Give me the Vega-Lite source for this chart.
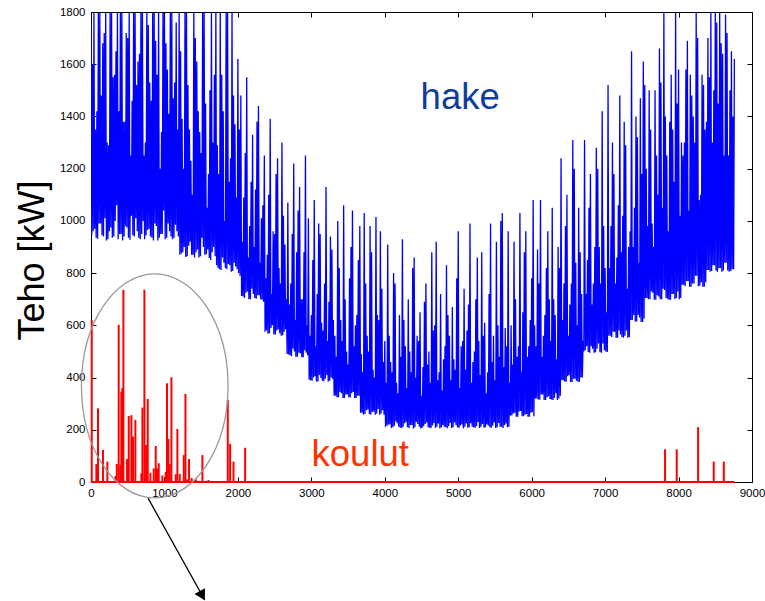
{
"$schema": "https://vega.github.io/schema/vega-lite/v6.json",
"width": 661, "height": 470,
"autosize": {"type": "none"},
"padding": {"left": 91, "top": 12, "right": 13, "bottom": 119},
"background": "white",
"config": {
  "view": {"stroke": null},
  "font": "Liberation Sans",
  "axis": {"grid": false, "domainColor": "#000", "tickColor": "#000", "labelColor": "#000", "labelFont": "Liberation Sans", "labelFontSize": 11.5, "tickSize": -5, "labelOverlap": false, "labelFlush": false, "domainWidth": 1, "tickWidth": 1, "format": "d"}
},
"datasets": {
"hake": [
{"h":0,"v":1750},{"h":10,"v":945},{"h":20,"v":1600},{"h":30,"v":960},
{"h":40,"v":1800},{"h":50,"v":970},{"h":60,"v":1350},{"h":70,"v":935},
{"h":80,"v":1420},{"h":90,"v":932},{"h":100,"v":1800},{"h":110,"v":990},
{"h":120,"v":1800},{"h":130,"v":990},{"h":140,"v":1480},{"h":150,"v":945},
{"h":160,"v":1680},{"h":170,"v":940},{"h":180,"v":1720},{"h":190,"v":1010},
{"h":200,"v":1800},{"h":210,"v":925},{"h":220,"v":1300},{"h":230,"v":930},
{"h":240,"v":1290},{"h":250,"v":960},{"h":260,"v":1800},{"h":270,"v":975},
{"h":280,"v":1800},{"h":290,"v":935},{"h":300,"v":1550},{"h":310,"v":940},
{"h":320,"v":1560},{"h":330,"v":1000},{"h":340,"v":1650},{"h":350,"v":1060},
{"h":360,"v":1800},{"h":370,"v":930},{"h":380,"v":1420},{"h":390,"v":950},
{"h":400,"v":1800},{"h":410,"v":950},{"h":420,"v":1800},{"h":430,"v":925},
{"h":440,"v":1380},{"h":450,"v":940},{"h":460,"v":1380},{"h":470,"v":980},
{"h":480,"v":1720},{"h":490,"v":975},{"h":500,"v":1700},{"h":510,"v":935},
{"h":520,"v":1800},{"h":530,"v":928},{"h":540,"v":1250},{"h":550,"v":1020},
{"h":560,"v":1460},{"h":570,"v":945},{"h":580,"v":1800},{"h":590,"v":940},
{"h":600,"v":1800},{"h":610,"v":1010},{"h":620,"v":1520},{"h":630,"v":960},
{"h":640,"v":1610},{"h":650,"v":935},{"h":660,"v":1640},{"h":670,"v":930},
{"h":680,"v":1800},{"h":690,"v":950},{"h":700,"v":1800},{"h":710,"v":1000},
{"h":720,"v":1250},{"h":730,"v":930},{"h":740,"v":1300},{"h":750,"v":945},
{"h":760,"v":1800},{"h":770,"v":965},{"h":780,"v":1750},{"h":790,"v":970},
{"h":800,"v":1530},{"h":810,"v":940},{"h":820,"v":1460},{"h":830,"v":935},
{"h":840,"v":1800},{"h":850,"v":925},{"h":860,"v":1800},{"h":870,"v":990},
{"h":880,"v":1690},{"h":890,"v":980},{"h":900,"v":1560},{"h":910,"v":925},
{"h":920,"v":1800},{"h":930,"v":935},{"h":940,"v":1200},{"h":950,"v":950},
{"h":960,"v":1340},{"h":970,"v":950},{"h":980,"v":1800},{"h":990,"v":1040},
{"h":1000,"v":1800},{"h":1010,"v":930},{"h":1020,"v":1680},{"h":1030,"v":935},
{"h":1040,"v":1580},{"h":1050,"v":990},{"h":1060,"v":1410},{"h":1070,"v":960},
{"h":1080,"v":1800},{"h":1090,"v":940},{"h":1100,"v":1800},{"h":1110,"v":930},
{"h":1120,"v":1470},{"h":1130,"v":935},{"h":1140,"v":1530},{"h":1150,"v":985},
{"h":1160,"v":1760},{"h":1170,"v":960},{"h":1180,"v":1350},{"h":1190,"v":940},
{"h":1200,"v":1800},{"h":1210,"v":870},{"h":1220,"v":1650},{"h":1230,"v":875},
{"h":1240,"v":1390},{"h":1250,"v":880},{"h":1260,"v":1200},{"h":1270,"v":900},
{"h":1280,"v":1800},{"h":1290,"v":862},{"h":1300,"v":1800},{"h":1310,"v":865},
{"h":1320,"v":1520},{"h":1330,"v":905},{"h":1340,"v":1350},{"h":1350,"v":920},
{"h":1360,"v":1230},{"h":1370,"v":870},{"h":1380,"v":1100},{"h":1390,"v":870},
{"h":1400,"v":1800},{"h":1410,"v":860},{"h":1420,"v":1700},{"h":1430,"v":880},
{"h":1440,"v":1610},{"h":1450,"v":890},{"h":1460,"v":1420},{"h":1470,"v":860},
{"h":1480,"v":1340},{"h":1490,"v":865},{"h":1500,"v":1260},{"h":1510,"v":935},
{"h":1520,"v":1800},{"h":1530,"v":900},{"h":1540,"v":1800},{"h":1550,"v":870},
{"h":1560,"v":1450},{"h":1570,"v":872},{"h":1580,"v":1050},{"h":1590,"v":890},
{"h":1600,"v":1180},{"h":1610,"v":858},{"h":1620,"v":1500},{"h":1630,"v":850},
{"h":1640,"v":1800},{"h":1650,"v":880},{"h":1660,"v":1300},{"h":1670,"v":900},
{"h":1680,"v":1560},{"h":1690,"v":865},{"h":1700,"v":1800},{"h":1710,"v":830},
{"h":1720,"v":1290},{"h":1730,"v":820},{"h":1740,"v":1180},{"h":1750,"v":815},
{"h":1760,"v":1800},{"h":1770,"v":812},{"h":1780,"v":1560},{"h":1790,"v":860},
{"h":1800,"v":1420},{"h":1810,"v":840},{"h":1820,"v":1000},{"h":1830,"v":820},
{"h":1840,"v":1800},{"h":1850,"v":815},{"h":1860,"v":1800},{"h":1870,"v":835},
{"h":1880,"v":1150},{"h":1890,"v":830},{"h":1900,"v":1240},{"h":1910,"v":805},
{"h":1920,"v":1800},{"h":1930,"v":808},{"h":1940,"v":1480},{"h":1950,"v":840},
{"h":1960,"v":1370},{"h":1970,"v":825},{"h":1980,"v":1090},{"h":1990,"v":815},
{"h":2000,"v":1620},{"h":2010,"v":800},{"h":2020,"v":1350},{"h":2030,"v":790},
{"h":2040,"v":1480},{"h":2050,"v":712},{"h":2060,"v":920},{"h":2070,"v":710},
{"h":2080,"v":1090},{"h":2090,"v":705},{"h":2100,"v":1260},{"h":2110,"v":725},
{"h":2120,"v":1550},{"h":2130,"v":730},{"h":2140,"v":860},{"h":2150,"v":700},
{"h":2160,"v":980},{"h":2170,"v":700},{"h":2180,"v":1150},{"h":2190,"v":740},
{"h":2200,"v":1330},{"h":2210,"v":720},{"h":2220,"v":900},{"h":2230,"v":705},
{"h":2240,"v":1120},{"h":2250,"v":702},{"h":2260,"v":1380},{"h":2270,"v":715},
{"h":2280,"v":1440},{"h":2290,"v":715},{"h":2300,"v":840},{"h":2310,"v":700},
{"h":2320,"v":1010},{"h":2330,"v":698},{"h":2340,"v":1060},{"h":2350,"v":690},
{"h":2360,"v":1250},{"h":2370,"v":575},{"h":2380,"v":780},{"h":2390,"v":580},
{"h":2400,"v":870},{"h":2410,"v":568},{"h":2420,"v":1100},{"h":2430,"v":570},
{"h":2440,"v":1390},{"h":2450,"v":590},{"h":2460,"v":720},{"h":2470,"v":600},
{"h":2480,"v":960},{"h":2490,"v":565},{"h":2500,"v":950},{"h":2510,"v":565},
{"h":2520,"v":1180},{"h":2530,"v":580},{"h":2540,"v":1240},{"h":2550,"v":585},
{"h":2560,"v":820},{"h":2570,"v":570},{"h":2580,"v":760},{"h":2590,"v":560},
{"h":2600,"v":1300},{"h":2610,"v":562},{"h":2620,"v":1020},{"h":2630,"v":575},
{"h":2640,"v":910},{"h":2650,"v":585},{"h":2660,"v":700},{"h":2670,"v":490},
{"h":2680,"v":1070},{"h":2690,"v":488},{"h":2700,"v":680},{"h":2710,"v":485},
{"h":2720,"v":760},{"h":2730,"v":482},{"h":2740,"v":950},{"h":2750,"v":510},
{"h":2760,"v":1220},{"h":2770,"v":500},{"h":2780,"v":620},{"h":2790,"v":480},
{"h":2800,"v":880},{"h":2810,"v":480},{"h":2820,"v":1040},{"h":2830,"v":495},
{"h":2840,"v":1130},{"h":2850,"v":492},{"h":2860,"v":700},{"h":2870,"v":478},
{"h":2880,"v":700},{"h":2890,"v":478},{"h":2900,"v":880},{"h":2910,"v":505},
{"h":2920,"v":1250},{"h":2930,"v":495},{"h":2940,"v":600},{"h":2950,"v":485},
{"h":2960,"v":1010},{"h":2970,"v":392},{"h":2980,"v":560},{"h":2990,"v":390},
{"h":3000,"v":640},{"h":3010,"v":388},{"h":3020,"v":850},{"h":3030,"v":400},
{"h":3040,"v":1080},{"h":3050,"v":405},{"h":3060,"v":520},{"h":3070,"v":385},
{"h":3080,"v":720},{"h":3090,"v":385},{"h":3100,"v":990},{"h":3110,"v":410},
{"h":3120,"v":950},{"h":3130,"v":398},{"h":3140,"v":610},{"h":3150,"v":388},
{"h":3160,"v":580},{"h":3170,"v":386},{"h":3180,"v":760},{"h":3190,"v":395},
{"h":3200,"v":1130},{"h":3210,"v":410},{"h":3220,"v":540},{"h":3230,"v":385},
{"h":3240,"v":690},{"h":3250,"v":388},{"h":3260,"v":940},{"h":3270,"v":400},
{"h":3280,"v":890},{"h":3290,"v":395},{"h":3300,"v":620},{"h":3310,"v":330},
{"h":3320,"v":560},{"h":3330,"v":330},{"h":3340,"v":480},{"h":3350,"v":325},
{"h":3360,"v":1000},{"h":3370,"v":325},{"h":3380,"v":820},{"h":3390,"v":345},
{"h":3400,"v":620},{"h":3410,"v":340},{"h":3420,"v":540},{"h":3430,"v":322},
{"h":3440,"v":1060},{"h":3450,"v":322},{"h":3460,"v":700},{"h":3470,"v":335},
{"h":3480,"v":500},{"h":3490,"v":335},{"h":3500,"v":450},{"h":3510,"v":325},
{"h":3520,"v":780},{"h":3530,"v":324},{"h":3540,"v":900},{"h":3550,"v":340},
{"h":3560,"v":1040},{"h":3570,"v":345},{"h":3580,"v":520},{"h":3590,"v":322},
{"h":3600,"v":600},{"h":3610,"v":322},{"h":3620,"v":640},{"h":3630,"v":330},
{"h":3640,"v":850},{"h":3650,"v":330},{"h":3660,"v":980},{"h":3670,"v":265},
{"h":3680,"v":490},{"h":3690,"v":265},{"h":3700,"v":420},{"h":3710,"v":258},
{"h":3720,"v":1030},{"h":3730,"v":260},{"h":3740,"v":760},{"h":3750,"v":275},
{"h":3760,"v":560},{"h":3770,"v":278},{"h":3780,"v":500},{"h":3790,"v":260},
{"h":3800,"v":980},{"h":3810,"v":258},{"h":3820,"v":880},{"h":3830,"v":268},
{"h":3840,"v":430},{"h":3850,"v":270},{"h":3860,"v":400},{"h":3870,"v":258},
{"h":3880,"v":1015},{"h":3890,"v":262},{"h":3900,"v":640},{"h":3910,"v":280},
{"h":3920,"v":620},{"h":3930,"v":258},{"h":3940,"v":960},{"h":3950,"v":262},
{"h":3960,"v":740},{"h":3970,"v":275},{"h":3980,"v":460},{"h":3990,"v":258},
{"h":4000,"v":540},{"h":4010,"v":212},{"h":4020,"v":380},{"h":4030,"v":215},
{"h":4040,"v":910},{"h":4050,"v":220},{"h":4060,"v":560},{"h":4070,"v":220},
{"h":4080,"v":460},{"h":4090,"v":207},{"h":4100,"v":420},{"h":4110,"v":210},
{"h":4120,"v":800},{"h":4130,"v":215},{"h":4140,"v":760},{"h":4150,"v":232},
{"h":4160,"v":380},{"h":4170,"v":225},{"h":4180,"v":340},{"h":4190,"v":212},
{"h":4200,"v":640},{"h":4210,"v":208},{"h":4220,"v":480},{"h":4230,"v":207},
{"h":4240,"v":930},{"h":4250,"v":212},{"h":4260,"v":620},{"h":4270,"v":225},
{"h":4280,"v":520},{"h":4290,"v":230},{"h":4300,"v":360},{"h":4310,"v":210},
{"h":4320,"v":700},{"h":4330,"v":207},{"h":4340,"v":500},{"h":4350,"v":218},
{"h":4360,"v":420},{"h":4370,"v":218},{"h":4380,"v":820},{"h":4390,"v":205},
{"h":4400,"v":860},{"h":4410,"v":210},{"h":4420,"v":400},{"h":4430,"v":230},
{"h":4440,"v":560},{"h":4450,"v":222},{"h":4460,"v":540},{"h":4470,"v":212},
{"h":4480,"v":650},{"h":4490,"v":205},{"h":4500,"v":330},{"h":4510,"v":208},
{"h":4520,"v":440},{"h":4530,"v":214},{"h":4540,"v":690},{"h":4550,"v":222},
{"h":4560,"v":760},{"h":4570,"v":228},{"h":4580,"v":450},{"h":4590,"v":210},
{"h":4600,"v":500},{"h":4610,"v":208},{"h":4620,"v":380},{"h":4630,"v":207},
{"h":4640,"v":880},{"h":4650,"v":216},{"h":4660,"v":580},{"h":4670,"v":226},
{"h":4680,"v":600},{"h":4690,"v":207},{"h":4700,"v":920},{"h":4710,"v":212},
{"h":4720,"v":390},{"h":4730,"v":224},{"h":4740,"v":420},{"h":4750,"v":205},
{"h":4760,"v":720},{"h":4770,"v":210},{"h":4780,"v":350},{"h":4790,"v":218},
{"h":4800,"v":470},{"h":4810,"v":212},{"h":4820,"v":520},{"h":4830,"v":210},
{"h":4840,"v":830},{"h":4850,"v":206},{"h":4860,"v":640},{"h":4870,"v":214},
{"h":4880,"v":560},{"h":4890,"v":226},{"h":4900,"v":390},{"h":4910,"v":207},
{"h":4920,"v":670},{"h":4930,"v":210},{"h":4940,"v":470},{"h":4950,"v":228},
{"h":4960,"v":430},{"h":4970,"v":218},{"h":4980,"v":780},{"h":4990,"v":210},
{"h":5000,"v":960},{"h":5010,"v":207},{"h":5020,"v":360},{"h":5030,"v":215},
{"h":5040,"v":520},{"h":5050,"v":220},{"h":5060,"v":540},{"h":5070,"v":206},
{"h":5080,"v":740},{"h":5090,"v":212},{"h":5100,"v":430},{"h":5110,"v":224},
{"h":5120,"v":580},{"h":5130,"v":208},{"h":5140,"v":680},{"h":5150,"v":210},
{"h":5160,"v":990},{"h":5170,"v":225},{"h":5180,"v":380},{"h":5190,"v":212},
{"h":5200,"v":460},{"h":5210,"v":210},{"h":5220,"v":500},{"h":5230,"v":207},
{"h":5240,"v":700},{"h":5250,"v":214},{"h":5260,"v":860},{"h":5270,"v":230},
{"h":5280,"v":540},{"h":5290,"v":207},{"h":5300,"v":410},{"h":5310,"v":212},
{"h":5320,"v":880},{"h":5330,"v":222},{"h":5340,"v":560},{"h":5350,"v":208},
{"h":5360,"v":610},{"h":5370,"v":210},{"h":5380,"v":340},{"h":5390,"v":220},
{"h":5400,"v":420},{"h":5410,"v":216},{"h":5420,"v":720},{"h":5430,"v":210},
{"h":5440,"v":990},{"h":5450,"v":208},{"h":5460,"v":460},{"h":5470,"v":215},
{"h":5480,"v":560},{"h":5490,"v":228},{"h":5500,"v":390},{"h":5510,"v":207},
{"h":5520,"v":920},{"h":5530,"v":210},{"h":5540,"v":600},{"h":5550,"v":226},
{"h":5560,"v":480},{"h":5570,"v":212},{"h":5580,"v":1000},{"h":5590,"v":212},
{"h":5600,"v":1030},{"h":5610,"v":207},{"h":5620,"v":440},{"h":5630,"v":218},
{"h":5640,"v":590},{"h":5650,"v":224},{"h":5660,"v":520},{"h":5670,"v":210},
{"h":5680,"v":960},{"h":5690,"v":212},{"h":5700,"v":380},{"h":5710,"v":255},
{"h":5720,"v":600},{"h":5730,"v":255},{"h":5740,"v":450},{"h":5750,"v":262},
{"h":5760,"v":920},{"h":5770,"v":265},{"h":5780,"v":700},{"h":5790,"v":250},
{"h":5800,"v":480},{"h":5810,"v":250},{"h":5820,"v":520},{"h":5830,"v":270},
{"h":5840,"v":1030},{"h":5850,"v":272},{"h":5860,"v":420},{"h":5870,"v":252},
{"h":5880,"v":650},{"h":5890,"v":252},{"h":5900,"v":880},{"h":5910,"v":258},
{"h":5920,"v":960},{"h":5930,"v":260},{"h":5940,"v":480},{"h":5950,"v":250},
{"h":5960,"v":520},{"h":5970,"v":250},{"h":5980,"v":620},{"h":5990,"v":265},
{"h":6000,"v":780},{"h":6010,"v":268},{"h":6020,"v":1080},{"h":6030,"v":252},
{"h":6040,"v":600},{"h":6050,"v":320},{"h":6060,"v":520},{"h":6070,"v":320},
{"h":6080,"v":890},{"h":6090,"v":316},{"h":6100,"v":760},{"h":6110,"v":315},
{"h":6120,"v":1080},{"h":6130,"v":335},{"h":6140,"v":480},{"h":6150,"v":335},
{"h":6160,"v":560},{"h":6170,"v":314},{"h":6180,"v":640},{"h":6190,"v":314},
{"h":6200,"v":820},{"h":6210,"v":325},{"h":6220,"v":960},{"h":6230,"v":328},
{"h":6240,"v":700},{"h":6250,"v":318},{"h":6260,"v":540},{"h":6270,"v":316},
{"h":6280,"v":1050},{"h":6290,"v":314},{"h":6300,"v":700},{"h":6310,"v":322},
{"h":6320,"v":640},{"h":6330,"v":340},{"h":6340,"v":470},{"h":6350,"v":314},
{"h":6360,"v":900},{"h":6370,"v":320},{"h":6380,"v":820},{"h":6390,"v":330},
{"h":6400,"v":1240},{"h":6410,"v":390},{"h":6420,"v":620},{"h":6430,"v":390},
{"h":6440,"v":760},{"h":6450,"v":385},{"h":6460,"v":980},{"h":6470,"v":384},
{"h":6480,"v":1100},{"h":6490,"v":405},{"h":6500,"v":560},{"h":6510,"v":410},
{"h":6520,"v":680},{"h":6530,"v":383},{"h":6540,"v":760},{"h":6550,"v":383},
{"h":6560,"v":1310},{"h":6570,"v":395},{"h":6580,"v":1200},{"h":6590,"v":395},
{"h":6600,"v":840},{"h":6610,"v":388},{"h":6620,"v":600},{"h":6630,"v":385},
{"h":6640,"v":1050},{"h":6650,"v":383},{"h":6660,"v":880},{"h":6670,"v":400},
{"h":6680,"v":720},{"h":6690,"v":400},{"h":6700,"v":540},{"h":6710,"v":500},
{"h":6720,"v":1310},{"h":6730,"v":505},{"h":6740,"v":720},{"h":6750,"v":520},
{"h":6760,"v":850},{"h":6770,"v":498},{"h":6780,"v":1050},{"h":6790,"v":495},
{"h":6800,"v":1180},{"h":6810,"v":520},{"h":6820,"v":680},{"h":6830,"v":510},
{"h":6840,"v":760},{"h":6850,"v":495},{"h":6860,"v":900},{"h":6870,"v":497},
{"h":6880,"v":1280},{"h":6890,"v":510},{"h":6900,"v":1200},{"h":6910,"v":530},
{"h":6920,"v":900},{"h":6930,"v":497},{"h":6940,"v":760},{"h":6950,"v":495},
{"h":6960,"v":1420},{"h":6970,"v":530},{"h":6980,"v":980},{"h":6990,"v":505},
{"h":7000,"v":820},{"h":7010,"v":500},{"h":7020,"v":650},{"h":7030,"v":498},
{"h":7040,"v":1520},{"h":7050,"v":560},{"h":7060,"v":820},{"h":7070,"v":560},
{"h":7080,"v":980},{"h":7090,"v":555},{"h":7100,"v":1300},{"h":7110,"v":575},
{"h":7120,"v":1180},{"h":7130,"v":575},{"h":7140,"v":760},{"h":7150,"v":552},
{"h":7160,"v":860},{"h":7170,"v":552},{"h":7180,"v":1060},{"h":7190,"v":580},
{"h":7200,"v":1480},{"h":7210,"v":565},{"h":7220,"v":880},{"h":7230,"v":555},
{"h":7240,"v":1020},{"h":7250,"v":552},{"h":7260,"v":1380},{"h":7270,"v":560},
{"h":7280,"v":1290},{"h":7290,"v":580},{"h":7300,"v":740},{"h":7310,"v":552},
{"h":7320,"v":900},{"h":7330,"v":555},{"h":7340,"v":960},{"h":7350,"v":620},
{"h":7360,"v":1650},{"h":7370,"v":620},{"h":7380,"v":900},{"h":7390,"v":640},
{"h":7400,"v":1050},{"h":7410,"v":615},{"h":7420,"v":1400},{"h":7430,"v":615},
{"h":7440,"v":1320},{"h":7450,"v":640},{"h":7460,"v":840},{"h":7470,"v":630},
{"h":7480,"v":1470},{"h":7490,"v":613},{"h":7500,"v":1180},{"h":7510,"v":613},
{"h":7520,"v":1610},{"h":7530,"v":625},{"h":7540,"v":1520},{"h":7550,"v":705},
{"h":7560,"v":1200},{"h":7570,"v":705},{"h":7580,"v":980},{"h":7590,"v":700},
{"h":7600,"v":1500},{"h":7610,"v":700},{"h":7620,"v":1350},{"h":7630,"v":730},
{"h":7640,"v":990},{"h":7650,"v":725},{"h":7660,"v":900},{"h":7670,"v":698},
{"h":7680,"v":1500},{"h":7690,"v":698},{"h":7700,"v":1250},{"h":7710,"v":715},
{"h":7720,"v":1100},{"h":7730,"v":710},{"h":7740,"v":1660},{"h":7750,"v":700},
{"h":7760,"v":1530},{"h":7770,"v":700},{"h":7780,"v":1050},{"h":7790,"v":740},
{"h":7800,"v":1800},{"h":7810,"v":735},{"h":7820,"v":1400},{"h":7830,"v":705},
{"h":7840,"v":1250},{"h":7850,"v":702},{"h":7860,"v":960},{"h":7870,"v":698},
{"h":7880,"v":1380},{"h":7890,"v":698},{"h":7900,"v":1560},{"h":7910,"v":720},
{"h":7920,"v":1350},{"h":7930,"v":720},{"h":7940,"v":1150},{"h":7950,"v":700},
{"h":7960,"v":1800},{"h":7970,"v":705},{"h":7980,"v":1450},{"h":7990,"v":730},
{"h":8000,"v":1580},{"h":8010,"v":700},{"h":8020,"v":1020},{"h":8030,"v":705},
{"h":8040,"v":1300},{"h":8050,"v":755},{"h":8060,"v":1250},{"h":8070,"v":755},
{"h":8080,"v":1300},{"h":8090,"v":750},{"h":8100,"v":1580},{"h":8110,"v":770},
{"h":8120,"v":1690},{"h":8130,"v":770},{"h":8140,"v":1040},{"h":8150,"v":748},
{"h":8160,"v":1560},{"h":8170,"v":748},{"h":8180,"v":1480},{"h":8190,"v":760},
{"h":8200,"v":1400},{"h":8210,"v":760},{"h":8220,"v":1300},{"h":8230,"v":790},
{"h":8240,"v":1800},{"h":8250,"v":790},{"h":8260,"v":1700},{"h":8270,"v":750},
{"h":8280,"v":1080},{"h":8290,"v":752},{"h":8300,"v":1100},{"h":8310,"v":765},
{"h":8320,"v":1560},{"h":8330,"v":748},{"h":8340,"v":1520},{"h":8350,"v":748},
{"h":8360,"v":1350},{"h":8370,"v":765},{"h":8380,"v":1380},{"h":8390,"v":812},
{"h":8400,"v":1700},{"h":8410,"v":812},{"h":8420,"v":1550},{"h":8430,"v":805},
{"h":8440,"v":1800},{"h":8450,"v":808},{"h":8460,"v":1300},{"h":8470,"v":830},
{"h":8480,"v":1500},{"h":8490,"v":830},{"h":8500,"v":1800},{"h":8510,"v":810},
{"h":8520,"v":1760},{"h":8530,"v":805},{"h":8540,"v":1450},{"h":8550,"v":820},
{"h":8560,"v":1800},{"h":8570,"v":820},{"h":8580,"v":1680},{"h":8590,"v":805},
{"h":8600,"v":1640},{"h":8610,"v":810},{"h":8620,"v":1250},{"h":8630,"v":840},
{"h":8640,"v":1790},{"h":8650,"v":840},{"h":8660,"v":1720},{"h":8670,"v":810},
{"h":8680,"v":1250},{"h":8690,"v":805},{"h":8700,"v":1500},{"h":8710,"v":808},
{"h":8720,"v":1650},{"h":8730,"v":815},{"h":8740,"v":1400},{"h":8750,"v":815},
{"h":8760,"v":1620}
],
"koulut": [
{"h":10,"v":621},{"h":73,"v":69},{"h":95,"v":282},{"h":163,"v":123},{"h":223,"v":78},{"h":333,"v":23},{"h":351,"v":69},{"h":377,"v":602},{"h":400,"v":65},{"h":413,"v":346},
{"h":427,"v":360},{"h":441,"v":736},{"h":491,"v":88},{"h":514,"v":253},{"h":550,"v":256},{"h":572,"v":174},{"h":604,"v":238},{"h":686,"v":33},{"h":700,"v":285},{"h":727,"v":736},
{"h":750,"v":142},{"h":772,"v":318},{"h":809,"v":35},{"h":854,"v":52},{"h":881,"v":138},{"h":899,"v":52},{"h":922,"v":72},{"h":972,"v":25},{"h":1017,"v":39},{"h":1035,"v":378},
{"h":1054,"v":165},{"h":1072,"v":69},{"h":1095,"v":401},{"h":1154,"v":30},{"h":1176,"v":203},{"h":1208,"v":31},{"h":1263,"v":103},{"h":1286,"v":337},{"h":1310,"v":10},{"h":1335,"v":88},
{"h":1371,"v":15},{"h":1430,"v":10},{"h":1517,"v":103},{"h":1599,"v":8},{"h":1862,"v":314},{"h":1894,"v":146},{"h":1940,"v":78},{"h":2099,"v":131},
{"h":7816,"v":125},{"h":7975,"v":125},{"h":8266,"v":210},{"h":8479,"v":78},{"h":8616,"v":78}
],
"base": [{"h":0,"h2":8760,"v":0}],
"ellipse": [{"h":868,"v":368}],
"arrow": [{"h":777,"v":-62,"h2":1549,"v2":-452}],
"head": [{"h":1515,"v":-435}],
"labels": [{"h":4488,"v":1430,"t":"hake"},{"h":3003,"v":61,"t":"koulut"}]
},
"layer": [
{
  "data": {"name": "hake"},
  "mark": {"type": "line", "color": "#0000ff", "strokeWidth": 1.3, "clip": true},
  "encoding": {
    "x": {"field": "h", "type": "quantitative", "scale": {"domain": [0, 9000], "nice": false, "zero": false},
      "axis": {"orient": "bottom", "title": null, "values": [0,1000,2000,3000,4000,5000,6000,7000,8000,9000], "labelPadding": 10.5}},
    "y": {"field": "v", "type": "quantitative", "scale": {"domain": [0, 1800], "nice": false},
      "axis": {"orient": "left", "values": [0,200,400,600,800,1000,1200,1400,1600,1800], "labelPadding": 11,
        "title": "Teho [kW]", "titleFont": "Liberation Sans", "titleFontSize": 36, "titleFontWeight": "normal", "titleColor": "#000",
        "titleAngle": 270, "titleX": -48, "titleY": 248, "titleAlign": "center", "titleBaseline": "alphabetic"}}
  }
},
{
  "data": {"name": "base"},
  "mark": {"type": "rule", "color": "#ff0000", "strokeWidth": 2},
  "encoding": {
    "x": {"field": "h", "type": "quantitative", "scale": {"domain": [0, 9000], "nice": false, "zero": false},
      "axis": {"orient": "top", "title": null, "labels": false, "values": [0,1000,2000,3000,4000,5000,6000,7000,8000,9000], "zindex": 1}},
    "x2": {"field": "h2"},
    "y": {"field": "v", "type": "quantitative", "scale": {"domain": [0, 1800], "nice": false},
      "axis": {"orient": "right", "title": null, "labels": false, "values": [0,200,400,600,800,1000,1200,1400,1600,1800], "zindex": 1}}
  }
},
{
  "data": {"name": "koulut"},
  "mark": {"type": "rule", "color": "#ff0000", "strokeWidth": 2},
  "encoding": {
    "x": {"field": "h", "type": "quantitative", "scale": {"domain": [0, 9000], "nice": false, "zero": false}, "axis": null},
    "y": {"field": "v", "type": "quantitative", "scale": {"domain": [0, 1800], "nice": false}, "axis": null},
    "y2": {"datum": 0}
  }
},
{
  "data": {"name": "ellipse"},
  "mark": {"type": "point", "shape": "M 0 -1 C 0.3615 -1 0.6545 -0.5523 0.6545 0 C 0.6545 0.5523 0.3615 1 0 1 C -0.3615 1 -0.6545 0.5523 -0.6545 0 C -0.6545 -0.5523 -0.3615 -1 0 -1 Z",
    "filled": false, "stroke": "#999999", "strokeWidth": 1.3, "size": 50176, "opacity": 1, "clip": false},
  "encoding": {
    "x": {"field": "h", "type": "quantitative", "scale": {"domain": [0, 9000], "nice": false, "zero": false}, "axis": null},
    "y": {"field": "v", "type": "quantitative", "scale": {"domain": [0, 1800], "nice": false}, "axis": null}
  }
},
{
  "data": {"name": "arrow"},
  "mark": {"type": "rule", "color": "#000000", "strokeWidth": 1.3, "clip": false},
  "encoding": {
    "x": {"field": "h", "type": "quantitative", "scale": {"domain": [0, 9000], "nice": false, "zero": false}, "axis": null},
    "y": {"field": "v", "type": "quantitative", "scale": {"domain": [0, 1800], "nice": false}, "axis": null},
    "x2": {"field": "h2"},
    "y2": {"field": "v2"}
  }
},
{
  "data": {"name": "head"},
  "mark": {"type": "point", "shape": "triangle-down", "filled": true, "color": "#000000", "size": 144, "angle": 331, "opacity": 1, "clip": false},
  "encoding": {
    "x": {"field": "h", "type": "quantitative", "scale": {"domain": [0, 9000], "nice": false, "zero": false}, "axis": null},
    "y": {"field": "v", "type": "quantitative", "scale": {"domain": [0, 1800], "nice": false}, "axis": null}
  }
},
{
  "data": {"name": "labels"},
  "mark": {"type": "text", "font": "Liberation Sans", "fontSize": 36.5, "align": "left", "baseline": "alphabetic"},
  "encoding": {
    "x": {"field": "h", "type": "quantitative", "scale": {"domain": [0, 9000], "nice": false, "zero": false}, "axis": null},
    "y": {"field": "v", "type": "quantitative", "scale": {"domain": [0, 1800], "nice": false}, "axis": null},
    "text": {"field": "t"},
    "color": {"field": "t", "type": "nominal", "scale": {"domain": ["hake", "koulut"], "range": ["#0f3d9e", "#ff3300"]}, "legend": null}
  }
}
]
}
